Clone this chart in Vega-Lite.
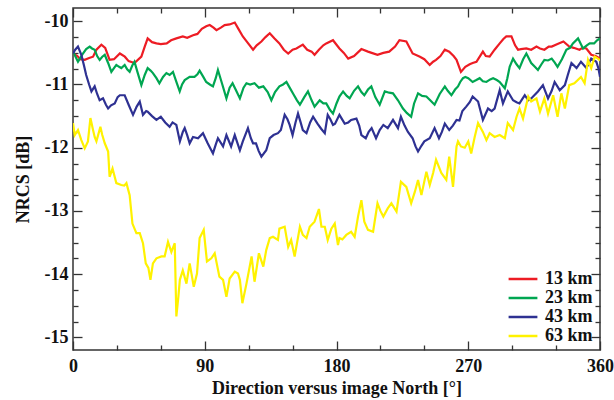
{
  "$schema": "https://vega.github.io/schema/vega-lite/v6.json",
  "width": 527,
  "height": 342,
  "autosize": {"type": "none"},
  "padding": {"left": 73, "top": 8, "right": 14, "bottom": 50},
  "config": {
    "view": {"stroke": "#333333", "strokeWidth": 1.5},
    "font": "Liberation Serif",
    "axis": {
      "labelFont": "Liberation Serif",
      "labelFontSize": 18,
      "labelFontWeight": "bold",
      "labelColor": "#111111",
      "titleFont": "Liberation Serif",
      "titleFontSize": 18,
      "titleFontWeight": "bold",
      "titleColor": "#111111",
      "tickColor": "#333333",
      "tickWidth": 1.3,
      "domain": false,
      "grid": false
    }
  },
  "datasets": {
    "nrcs": [
      {"s":"13 km","d":0,"v":-10.51},{"s":"13 km","d":3,"v":-10.55},{"s":"13 km","d":5,"v":-10.6},{"s":"13 km","d":8,"v":-10.61},{"s":"13 km","d":11,"v":-10.58},{"s":"13 km","d":13.7,"v":-10.56},{"s":"13 km","d":16,"v":-10.45},{"s":"13 km","d":19.4,"v":-10.37},{"s":"13 km","d":22,"v":-10.42},{"s":"13 km","d":25,"v":-10.61},{"s":"13 km","d":28,"v":-10.6},{"s":"13 km","d":32,"v":-10.51},{"s":"13 km","d":35.4,"v":-10.56},{"s":"13 km","d":38,"v":-10.63},{"s":"13 km","d":42,"v":-10.66},{"s":"13 km","d":46.7,"v":-10.56},{"s":"13 km","d":49,"v":-10.4},{"s":"13 km","d":51,"v":-10.27},{"s":"13 km","d":54,"v":-10.33},{"s":"13 km","d":57,"v":-10.35},{"s":"13 km","d":60,"v":-10.36},{"s":"13 km","d":64,"v":-10.35},{"s":"13 km","d":67,"v":-10.3},{"s":"13 km","d":70.6,"v":-10.27},{"s":"13 km","d":75,"v":-10.24},{"s":"13 km","d":78,"v":-10.26},{"s":"13 km","d":82,"v":-10.22},{"s":"13 km","d":85,"v":-10.2},{"s":"13 km","d":88,"v":-10.12},{"s":"13 km","d":91,"v":-10.08},{"s":"13 km","d":93.4,"v":-10.06},{"s":"13 km","d":96,"v":-10.1},{"s":"13 km","d":98,"v":-10.14},{"s":"13 km","d":101,"v":-10.1},{"s":"13 km","d":103.6,"v":-10.06},{"s":"13 km","d":107,"v":-10.05},{"s":"13 km","d":110.5,"v":-10.02},{"s":"13 km","d":113,"v":-10.12},{"s":"13 km","d":116,"v":-10.24},{"s":"13 km","d":119,"v":-10.33},{"s":"13 km","d":123,"v":-10.45},{"s":"13 km","d":125.5,"v":-10.38},{"s":"13 km","d":128.7,"v":-10.32},{"s":"13 km","d":131.5,"v":-10.25},{"s":"13 km","d":134.4,"v":-10.19},{"s":"13 km","d":137.5,"v":-10.27},{"s":"13 km","d":141,"v":-10.35},{"s":"13 km","d":144,"v":-10.45},{"s":"13 km","d":147,"v":-10.51},{"s":"13 km","d":150,"v":-10.45},{"s":"13 km","d":152.6,"v":-10.43},{"s":"13 km","d":157,"v":-10.37},{"s":"13 km","d":160,"v":-10.45},{"s":"13 km","d":163,"v":-10.48},{"s":"13 km","d":165,"v":-10.53},{"s":"13 km","d":168,"v":-10.45},{"s":"13 km","d":171,"v":-10.38},{"s":"13 km","d":173,"v":-10.35},{"s":"13 km","d":177.6,"v":-10.3},{"s":"13 km","d":182,"v":-10.43},{"s":"13 km","d":185,"v":-10.5},{"s":"13 km","d":188,"v":-10.59},{"s":"13 km","d":192,"v":-10.55},{"s":"13 km","d":197,"v":-10.44},{"s":"13 km","d":201.5,"v":-10.48},{"s":"13 km","d":204,"v":-10.5},{"s":"13 km","d":208,"v":-10.53},{"s":"13 km","d":212,"v":-10.5},{"s":"13 km","d":216,"v":-10.48},{"s":"13 km","d":220,"v":-10.4},{"s":"13 km","d":223,"v":-10.3},{"s":"13 km","d":227.7,"v":-10.32},{"s":"13 km","d":232,"v":-10.51},{"s":"13 km","d":237,"v":-10.56},{"s":"13 km","d":240,"v":-10.6},{"s":"13 km","d":243.7,"v":-10.69},{"s":"13 km","d":246,"v":-10.64},{"s":"13 km","d":248,"v":-10.61},{"s":"13 km","d":251,"v":-10.55},{"s":"13 km","d":254,"v":-10.45},{"s":"13 km","d":257,"v":-10.48},{"s":"13 km","d":260,"v":-10.55},{"s":"13 km","d":262,"v":-10.61},{"s":"13 km","d":265,"v":-10.8},{"s":"13 km","d":268,"v":-10.72},{"s":"13 km","d":271,"v":-10.68},{"s":"13 km","d":273,"v":-10.66},{"s":"13 km","d":275.6,"v":-10.64},{"s":"13 km","d":280,"v":-10.48},{"s":"13 km","d":282,"v":-10.55},{"s":"13 km","d":284.6,"v":-10.56},{"s":"13 km","d":288,"v":-10.45},{"s":"13 km","d":291.5,"v":-10.35},{"s":"13 km","d":294,"v":-10.28},{"s":"13 km","d":296,"v":-10.24},{"s":"13 km","d":299.5,"v":-10.24},{"s":"13 km","d":302,"v":-10.38},{"s":"13 km","d":304,"v":-10.45},{"s":"13 km","d":306,"v":-10.44},{"s":"13 km","d":309.7,"v":-10.43},{"s":"13 km","d":313,"v":-10.45},{"s":"13 km","d":316.6,"v":-10.4},{"s":"13 km","d":319,"v":-10.43},{"s":"13 km","d":322,"v":-10.45},{"s":"13 km","d":325,"v":-10.4},{"s":"13 km","d":327,"v":-10.4},{"s":"13 km","d":331,"v":-10.36},{"s":"13 km","d":335,"v":-10.32},{"s":"13 km","d":339,"v":-10.4},{"s":"13 km","d":342,"v":-10.42},{"s":"13 km","d":346,"v":-10.45},{"s":"13 km","d":348,"v":-10.42},{"s":"13 km","d":350.7,"v":-10.43},{"s":"13 km","d":354,"v":-10.53},{"s":"13 km","d":357,"v":-10.55},{"s":"13 km","d":360,"v":-10.59},
      {"s":"23 km","d":0,"v":-10.48},{"s":"23 km","d":1.5,"v":-10.55},{"s":"23 km","d":3.4,"v":-10.64},{"s":"23 km","d":5,"v":-10.58},{"s":"23 km","d":6.8,"v":-10.51},{"s":"23 km","d":9,"v":-10.44},{"s":"23 km","d":11.4,"v":-10.4},{"s":"23 km","d":13,"v":-10.43},{"s":"23 km","d":14.8,"v":-10.45},{"s":"23 km","d":16.5,"v":-10.55},{"s":"23 km","d":18.2,"v":-10.61},{"s":"23 km","d":20,"v":-10.56},{"s":"23 km","d":21.7,"v":-10.53},{"s":"23 km","d":24,"v":-10.66},{"s":"23 km","d":26.2,"v":-10.8},{"s":"23 km","d":28,"v":-10.74},{"s":"23 km","d":29.6,"v":-10.69},{"s":"23 km","d":31.5,"v":-10.72},{"s":"23 km","d":33,"v":-10.74},{"s":"23 km","d":35.3,"v":-10.69},{"s":"23 km","d":37,"v":-10.76},{"s":"23 km","d":38.7,"v":-10.8},{"s":"23 km","d":40.5,"v":-10.7},{"s":"23 km","d":42,"v":-10.64},{"s":"23 km","d":44,"v":-10.8},{"s":"23 km","d":46.7,"v":-11.01},{"s":"23 km","d":49,"v":-10.85},{"s":"23 km","d":51,"v":-10.74},{"s":"23 km","d":53,"v":-10.78},{"s":"23 km","d":54.6,"v":-10.82},{"s":"23 km","d":57,"v":-10.9},{"s":"23 km","d":59,"v":-10.98},{"s":"23 km","d":61.5,"v":-10.88},{"s":"23 km","d":63.8,"v":-10.82},{"s":"23 km","d":66,"v":-10.85},{"s":"23 km","d":68.3,"v":-10.8},{"s":"23 km","d":70.5,"v":-10.95},{"s":"23 km","d":72.9,"v":-11.11},{"s":"23 km","d":74.5,"v":-11.0},{"s":"23 km","d":76.3,"v":-10.93},{"s":"23 km","d":79.7,"v":-10.88},{"s":"23 km","d":83,"v":-10.88},{"s":"23 km","d":85,"v":-10.84},{"s":"23 km","d":86.5,"v":-10.78},{"s":"23 km","d":89,"v":-10.88},{"s":"23 km","d":91,"v":-10.96},{"s":"23 km","d":93.5,"v":-11.0},{"s":"23 km","d":95.6,"v":-11.03},{"s":"23 km","d":97.5,"v":-10.9},{"s":"23 km","d":99,"v":-10.77},{"s":"23 km","d":102,"v":-11.0},{"s":"23 km","d":104.8,"v":-11.22},{"s":"23 km","d":107,"v":-11.05},{"s":"23 km","d":109,"v":-10.98},{"s":"23 km","d":111.5,"v":-11.1},{"s":"23 km","d":114,"v":-11.22},{"s":"23 km","d":116.5,"v":-11.05},{"s":"23 km","d":118.5,"v":-10.98},{"s":"23 km","d":121,"v":-11.0},{"s":"23 km","d":124,"v":-10.98},{"s":"23 km","d":127,"v":-11.05},{"s":"23 km","d":130,"v":-11.03},{"s":"23 km","d":133,"v":-11.12},{"s":"23 km","d":135.5,"v":-11.25},{"s":"23 km","d":138,"v":-11.12},{"s":"23 km","d":141,"v":-11.03},{"s":"23 km","d":143.5,"v":-11.0},{"s":"23 km","d":145.8,"v":-10.96},{"s":"23 km","d":148,"v":-11.05},{"s":"23 km","d":150.5,"v":-11.15},{"s":"23 km","d":153,"v":-11.25},{"s":"23 km","d":155,"v":-11.32},{"s":"23 km","d":158,"v":-11.2},{"s":"23 km","d":160.5,"v":-11.11},{"s":"23 km","d":163,"v":-11.25},{"s":"23 km","d":165,"v":-11.35},{"s":"23 km","d":168.5,"v":-11.25},{"s":"23 km","d":171,"v":-11.3},{"s":"23 km","d":173,"v":-11.3},{"s":"23 km","d":175.5,"v":-11.4},{"s":"23 km","d":177.6,"v":-11.46},{"s":"23 km","d":180,"v":-11.3},{"s":"23 km","d":182,"v":-11.19},{"s":"23 km","d":184.5,"v":-11.11},{"s":"23 km","d":187,"v":-11.18},{"s":"23 km","d":189,"v":-11.22},{"s":"23 km","d":192,"v":-11.1},{"s":"23 km","d":194.7,"v":-11.03},{"s":"23 km","d":197,"v":-11.12},{"s":"23 km","d":199,"v":-11.17},{"s":"23 km","d":201.5,"v":-11.08},{"s":"23 km","d":203.8,"v":-11.03},{"s":"23 km","d":206.5,"v":-11.2},{"s":"23 km","d":209.5,"v":-11.32},{"s":"23 km","d":213,"v":-11.11},{"s":"23 km","d":216,"v":-11.13},{"s":"23 km","d":218.6,"v":-11.14},{"s":"23 km","d":222,"v":-11.25},{"s":"23 km","d":225.4,"v":-11.38},{"s":"23 km","d":228,"v":-11.45},{"s":"23 km","d":231,"v":-11.51},{"s":"23 km","d":233,"v":-11.3},{"s":"23 km","d":235.7,"v":-11.14},{"s":"23 km","d":238.5,"v":-11.18},{"s":"23 km","d":241.4,"v":-11.19},{"s":"23 km","d":244,"v":-11.25},{"s":"23 km","d":247,"v":-11.32},{"s":"23 km","d":250.5,"v":-11.15},{"s":"23 km","d":254,"v":-11.03},{"s":"23 km","d":256,"v":-11.1},{"s":"23 km","d":258.5,"v":-11.17},{"s":"23 km","d":261,"v":-11.08},{"s":"23 km","d":263,"v":-11.03},{"s":"23 km","d":264.5,"v":-10.96},{"s":"23 km","d":266.4,"v":-10.9},{"s":"23 km","d":268,"v":-10.88},{"s":"23 km","d":270,"v":-10.9},{"s":"23 km","d":273,"v":-10.96},{"s":"23 km","d":275.5,"v":-10.93},{"s":"23 km","d":277.8,"v":-10.9},{"s":"23 km","d":280,"v":-10.95},{"s":"23 km","d":282.4,"v":-10.96},{"s":"23 km","d":285,"v":-10.92},{"s":"23 km","d":287,"v":-10.9},{"s":"23 km","d":289.5,"v":-10.93},{"s":"23 km","d":291.5,"v":-10.96},{"s":"23 km","d":295,"v":-11.06},{"s":"23 km","d":296.7,"v":-10.9},{"s":"23 km","d":298.3,"v":-10.72},{"s":"23 km","d":300.6,"v":-10.59},{"s":"23 km","d":303,"v":-10.68},{"s":"23 km","d":305,"v":-10.74},{"s":"23 km","d":307.5,"v":-10.6},{"s":"23 km","d":309.7,"v":-10.51},{"s":"23 km","d":313,"v":-10.66},{"s":"23 km","d":315.5,"v":-10.72},{"s":"23 km","d":317.6,"v":-10.77},{"s":"23 km","d":320,"v":-10.68},{"s":"23 km","d":322,"v":-10.61},{"s":"23 km","d":324.5,"v":-10.62},{"s":"23 km","d":327,"v":-10.59},{"s":"23 km","d":329,"v":-10.65},{"s":"23 km","d":331,"v":-10.72},{"s":"23 km","d":334,"v":-10.6},{"s":"23 km","d":337,"v":-10.45},{"s":"23 km","d":339.5,"v":-10.42},{"s":"23 km","d":341.5,"v":-10.35},{"s":"23 km","d":345,"v":-10.27},{"s":"23 km","d":348.4,"v":-10.43},{"s":"23 km","d":351,"v":-10.38},{"s":"23 km","d":353,"v":-10.35},{"s":"23 km","d":356,"v":-10.35},{"s":"23 km","d":358,"v":-10.3},{"s":"23 km","d":360,"v":-10.27},
      {"s":"43 km","d":0,"v":-10.51},{"s":"43 km","d":1.5,"v":-10.45},{"s":"43 km","d":3.4,"v":-10.4},{"s":"43 km","d":5.7,"v":-10.53},{"s":"43 km","d":7.5,"v":-10.7},{"s":"43 km","d":9,"v":-10.85},{"s":"43 km","d":11,"v":-11.0},{"s":"43 km","d":12.6,"v":-11.11},{"s":"43 km","d":14.8,"v":-11.03},{"s":"43 km","d":16.5,"v":-11.15},{"s":"43 km","d":18.2,"v":-11.25},{"s":"43 km","d":20.5,"v":-11.22},{"s":"43 km","d":22.5,"v":-11.32},{"s":"43 km","d":24,"v":-11.38},{"s":"43 km","d":26,"v":-11.33},{"s":"43 km","d":28.5,"v":-11.3},{"s":"43 km","d":30.5,"v":-11.2},{"s":"43 km","d":32,"v":-11.17},{"s":"43 km","d":35.3,"v":-11.17},{"s":"43 km","d":38,"v":-11.32},{"s":"43 km","d":41,"v":-11.48},{"s":"43 km","d":43.5,"v":-11.35},{"s":"43 km","d":45.6,"v":-11.27},{"s":"43 km","d":47.8,"v":-11.48},{"s":"43 km","d":50,"v":-11.42},{"s":"43 km","d":51,"v":-11.43},{"s":"43 km","d":54,"v":-11.5},{"s":"43 km","d":57,"v":-11.56},{"s":"43 km","d":60,"v":-11.51},{"s":"43 km","d":63,"v":-11.6},{"s":"43 km","d":66,"v":-11.67},{"s":"43 km","d":68,"v":-11.6},{"s":"43 km","d":70.6,"v":-11.64},{"s":"43 km","d":73,"v":-11.9},{"s":"43 km","d":75,"v":-11.75},{"s":"43 km","d":76.3,"v":-11.69},{"s":"43 km","d":78,"v":-11.8},{"s":"43 km","d":79.7,"v":-11.93},{"s":"43 km","d":82,"v":-11.83},{"s":"43 km","d":85.4,"v":-11.85},{"s":"43 km","d":88.8,"v":-11.77},{"s":"43 km","d":90,"v":-11.83},{"s":"43 km","d":92,"v":-11.93},{"s":"43 km","d":95.6,"v":-12.09},{"s":"43 km","d":97.5,"v":-11.95},{"s":"43 km","d":99,"v":-11.85},{"s":"43 km","d":102.5,"v":-11.98},{"s":"43 km","d":104.8,"v":-11.8},{"s":"43 km","d":108,"v":-11.98},{"s":"43 km","d":110.5,"v":-11.8},{"s":"43 km","d":114,"v":-12.04},{"s":"43 km","d":116,"v":-11.9},{"s":"43 km","d":119.5,"v":-11.69},{"s":"43 km","d":121.5,"v":-11.85},{"s":"43 km","d":123,"v":-11.93},{"s":"43 km","d":125,"v":-11.93},{"s":"43 km","d":126.8,"v":-12.05},{"s":"43 km","d":128.7,"v":-12.14},{"s":"43 km","d":132,"v":-12.04},{"s":"43 km","d":134.4,"v":-11.85},{"s":"43 km","d":137,"v":-11.8},{"s":"43 km","d":140,"v":-11.77},{"s":"43 km","d":142,"v":-11.72},{"s":"43 km","d":144.6,"v":-11.48},{"s":"43 km","d":146.5,"v":-11.55},{"s":"43 km","d":148,"v":-11.64},{"s":"43 km","d":150,"v":-11.8},{"s":"43 km","d":152,"v":-11.6},{"s":"43 km","d":153.7,"v":-11.46},{"s":"43 km","d":155.5,"v":-11.6},{"s":"43 km","d":157,"v":-11.72},{"s":"43 km","d":159.5,"v":-11.77},{"s":"43 km","d":162,"v":-11.6},{"s":"43 km","d":164,"v":-11.51},{"s":"43 km","d":167,"v":-11.62},{"s":"43 km","d":169.5,"v":-11.7},{"s":"43 km","d":172,"v":-11.77},{"s":"43 km","d":174,"v":-11.48},{"s":"43 km","d":175.8,"v":-11.55},{"s":"43 km","d":177.6,"v":-11.64},{"s":"43 km","d":179,"v":-11.62},{"s":"43 km","d":182,"v":-11.48},{"s":"43 km","d":185.6,"v":-11.62},{"s":"43 km","d":188,"v":-11.6},{"s":"43 km","d":190,"v":-11.56},{"s":"43 km","d":193.6,"v":-11.54},{"s":"43 km","d":195.5,"v":-11.65},{"s":"43 km","d":197,"v":-11.8},{"s":"43 km","d":200,"v":-11.85},{"s":"43 km","d":202,"v":-11.75},{"s":"43 km","d":204,"v":-11.69},{"s":"43 km","d":207,"v":-11.85},{"s":"43 km","d":209.5,"v":-11.72},{"s":"43 km","d":212,"v":-11.64},{"s":"43 km","d":215,"v":-11.69},{"s":"43 km","d":218.6,"v":-11.56},{"s":"43 km","d":222,"v":-11.69},{"s":"43 km","d":224,"v":-11.51},{"s":"43 km","d":226.5,"v":-11.65},{"s":"43 km","d":228.8,"v":-11.75},{"s":"43 km","d":232,"v":-11.85},{"s":"43 km","d":234,"v":-11.98},{"s":"43 km","d":235.7,"v":-12.06},{"s":"43 km","d":238,"v":-11.97},{"s":"43 km","d":240,"v":-11.9},{"s":"43 km","d":243.7,"v":-11.85},{"s":"43 km","d":247,"v":-11.69},{"s":"43 km","d":250,"v":-11.85},{"s":"43 km","d":252,"v":-11.75},{"s":"43 km","d":254,"v":-11.62},{"s":"43 km","d":257,"v":-11.72},{"s":"43 km","d":259.5,"v":-11.65},{"s":"43 km","d":262,"v":-11.56},{"s":"43 km","d":264,"v":-11.57},{"s":"43 km","d":266,"v":-11.42},{"s":"43 km","d":268.6,"v":-11.35},{"s":"43 km","d":271,"v":-11.28},{"s":"43 km","d":273,"v":-11.19},{"s":"43 km","d":276.7,"v":-11.27},{"s":"43 km","d":280,"v":-11.56},{"s":"43 km","d":283.5,"v":-11.38},{"s":"43 km","d":286,"v":-11.42},{"s":"43 km","d":288,"v":-11.38},{"s":"43 km","d":291.5,"v":-11.09},{"s":"43 km","d":293.7,"v":-11.3},{"s":"43 km","d":297,"v":-11.11},{"s":"43 km","d":300.6,"v":-11.25},{"s":"43 km","d":303,"v":-11.28},{"s":"43 km","d":305,"v":-11.3},{"s":"43 km","d":308.6,"v":-11.17},{"s":"43 km","d":311,"v":-11.25},{"s":"43 km","d":313,"v":-11.22},{"s":"43 km","d":317.6,"v":-11.11},{"s":"43 km","d":321,"v":-11.01},{"s":"43 km","d":324.5,"v":-11.22},{"s":"43 km","d":327,"v":-11.1},{"s":"43 km","d":329,"v":-10.96},{"s":"43 km","d":332.5,"v":-11.09},{"s":"43 km","d":336,"v":-11.01},{"s":"43 km","d":338,"v":-10.85},{"s":"43 km","d":340.5,"v":-10.66},{"s":"43 km","d":344,"v":-10.74},{"s":"43 km","d":347,"v":-10.64},{"s":"43 km","d":350.7,"v":-10.74},{"s":"43 km","d":354,"v":-10.59},{"s":"43 km","d":357.5,"v":-10.64},{"s":"43 km","d":359,"v":-10.75},{"s":"43 km","d":360,"v":-10.88},
      {"s":"63 km","d":0,"v":-11.61},{"s":"63 km","d":1.2,"v":-11.8},{"s":"63 km","d":3.4,"v":-11.72},{"s":"63 km","d":5.7,"v":-11.88},{"s":"63 km","d":8,"v":-12.01},{"s":"63 km","d":10.2,"v":-11.9},{"s":"63 km","d":11.9,"v":-11.53},{"s":"63 km","d":13.5,"v":-11.7},{"s":"63 km","d":14.8,"v":-11.83},{"s":"63 km","d":16,"v":-11.9},{"s":"63 km","d":18.7,"v":-11.67},{"s":"63 km","d":20,"v":-11.8},{"s":"63 km","d":21.7,"v":-11.93},{"s":"63 km","d":24,"v":-12.06},{"s":"63 km","d":25,"v":-12.46},{"s":"63 km","d":27,"v":-12.33},{"s":"63 km","d":29.6,"v":-12.56},{"s":"63 km","d":33,"v":-12.59},{"s":"63 km","d":35,"v":-12.6},{"s":"63 km","d":36.5,"v":-12.56},{"s":"63 km","d":38.7,"v":-12.75},{"s":"63 km","d":40.6,"v":-13.2},{"s":"63 km","d":43.3,"v":-13.35},{"s":"63 km","d":45.6,"v":-13.35},{"s":"63 km","d":47.8,"v":-13.51},{"s":"63 km","d":49.7,"v":-13.83},{"s":"63 km","d":51.5,"v":-13.9},{"s":"63 km","d":52.9,"v":-14.09},{"s":"63 km","d":54.6,"v":-13.83},{"s":"63 km","d":57,"v":-13.75},{"s":"63 km","d":60.4,"v":-13.72},{"s":"63 km","d":62.6,"v":-13.72},{"s":"63 km","d":64.9,"v":-13.49},{"s":"63 km","d":67.2,"v":-13.65},{"s":"63 km","d":69.5,"v":-13.51},{"s":"63 km","d":70.6,"v":-14.67},{"s":"63 km","d":72,"v":-14.35},{"s":"63 km","d":73,"v":-14.09},{"s":"63 km","d":75,"v":-13.94},{"s":"63 km","d":77.5,"v":-14.15},{"s":"63 km","d":79.7,"v":-13.83},{"s":"63 km","d":81,"v":-14.0},{"s":"63 km","d":82.5,"v":-14.2},{"s":"63 km","d":84.7,"v":-13.99},{"s":"63 km","d":86.5,"v":-13.43},{"s":"63 km","d":89.3,"v":-13.3},{"s":"63 km","d":91.5,"v":-13.8},{"s":"63 km","d":94.5,"v":-13.75},{"s":"63 km","d":96.8,"v":-13.67},{"s":"63 km","d":100,"v":-14.04},{"s":"63 km","d":102.5,"v":-14.09},{"s":"63 km","d":104.8,"v":-14.36},{"s":"63 km","d":107,"v":-14.07},{"s":"63 km","d":110.5,"v":-13.96},{"s":"63 km","d":112.7,"v":-13.99},{"s":"63 km","d":114,"v":-14.09},{"s":"63 km","d":115.7,"v":-14.46},{"s":"63 km","d":118.5,"v":-14.15},{"s":"63 km","d":122,"v":-13.72},{"s":"63 km","d":124,"v":-14.12},{"s":"63 km","d":127,"v":-13.67},{"s":"63 km","d":130,"v":-13.88},{"s":"63 km","d":132,"v":-13.62},{"s":"63 km","d":134.4,"v":-13.43},{"s":"63 km","d":136.6,"v":-13.41},{"s":"63 km","d":140,"v":-13.46},{"s":"63 km","d":141,"v":-13.28},{"s":"63 km","d":144.6,"v":-13.25},{"s":"63 km","d":147,"v":-13.57},{"s":"63 km","d":149,"v":-13.46},{"s":"63 km","d":151.4,"v":-13.72},{"s":"63 km","d":155,"v":-13.25},{"s":"63 km","d":157,"v":-13.38},{"s":"63 km","d":159.5,"v":-13.43},{"s":"63 km","d":161.7,"v":-13.25},{"s":"63 km","d":165,"v":-13.17},{"s":"63 km","d":168,"v":-12.97},{"s":"63 km","d":169.7,"v":-13.25},{"s":"63 km","d":172,"v":-13.25},{"s":"63 km","d":174,"v":-13.46},{"s":"63 km","d":176.5,"v":-13.28},{"s":"63 km","d":178.8,"v":-13.2},{"s":"63 km","d":181,"v":-13.54},{"s":"63 km","d":182,"v":-13.43},{"s":"63 km","d":184,"v":-13.45},{"s":"63 km","d":186.7,"v":-13.38},{"s":"63 km","d":190,"v":-13.33},{"s":"63 km","d":192.4,"v":-13.41},{"s":"63 km","d":194.7,"v":-13.09},{"s":"63 km","d":197,"v":-12.83},{"s":"63 km","d":199,"v":-13.17},{"s":"63 km","d":201.5,"v":-13.3},{"s":"63 km","d":205,"v":-13.33},{"s":"63 km","d":208,"v":-12.88},{"s":"63 km","d":210,"v":-13.0},{"s":"63 km","d":212,"v":-13.09},{"s":"63 km","d":215,"v":-12.96},{"s":"63 km","d":217.5,"v":-12.88},{"s":"63 km","d":221,"v":-13.01},{"s":"63 km","d":224,"v":-12.54},{"s":"63 km","d":227.7,"v":-12.62},{"s":"63 km","d":231,"v":-12.88},{"s":"63 km","d":233.5,"v":-12.7},{"s":"63 km","d":235.7,"v":-12.51},{"s":"63 km","d":238,"v":-12.75},{"s":"63 km","d":241.4,"v":-12.38},{"s":"63 km","d":243.7,"v":-12.59},{"s":"63 km","d":246,"v":-12.4},{"s":"63 km","d":248,"v":-12.19},{"s":"63 km","d":251.6,"v":-12.4},{"s":"63 km","d":255,"v":-12.51},{"s":"63 km","d":257,"v":-12.14},{"s":"63 km","d":259.6,"v":-12.62},{"s":"63 km","d":262,"v":-11.98},{"s":"63 km","d":263,"v":-11.9},{"s":"63 km","d":265,"v":-11.98},{"s":"63 km","d":267.6,"v":-12.0},{"s":"63 km","d":270,"v":-11.9},{"s":"63 km","d":272,"v":-12.09},{"s":"63 km","d":274.4,"v":-11.83},{"s":"63 km","d":276.7,"v":-11.61},{"s":"63 km","d":280,"v":-11.75},{"s":"63 km","d":282.4,"v":-11.88},{"s":"63 km","d":284.6,"v":-11.77},{"s":"63 km","d":288,"v":-11.83},{"s":"63 km","d":291.5,"v":-11.8},{"s":"63 km","d":295,"v":-11.85},{"s":"63 km","d":297,"v":-11.61},{"s":"63 km","d":300.6,"v":-11.72},{"s":"63 km","d":303,"v":-11.51},{"s":"63 km","d":305,"v":-11.38},{"s":"63 km","d":307.4,"v":-11.54},{"s":"63 km","d":311,"v":-11.19},{"s":"63 km","d":313,"v":-11.27},{"s":"63 km","d":316.6,"v":-11.22},{"s":"63 km","d":319,"v":-11.43},{"s":"63 km","d":322,"v":-11.22},{"s":"63 km","d":324.5,"v":-11.46},{"s":"63 km","d":328,"v":-11.17},{"s":"63 km","d":331,"v":-11.51},{"s":"63 km","d":333.6,"v":-11.14},{"s":"63 km","d":336,"v":-11.38},{"s":"63 km","d":339,"v":-11.01},{"s":"63 km","d":342.5,"v":-10.98},{"s":"63 km","d":347,"v":-10.88},{"s":"63 km","d":349.5,"v":-10.98},{"s":"63 km","d":351.8,"v":-10.61},{"s":"63 km","d":354,"v":-10.74},{"s":"63 km","d":356.4,"v":-10.56},{"s":"63 km","d":358.6,"v":-10.59},{"s":"63 km","d":360,"v":-10.62}
    ]
  },
  "data": {"name": "nrcs"},
  "layer": [
    {
      "mark": {"type": "line", "strokeWidth": 2.2, "clip": true},
      "encoding": {
        "x": {
          "field": "d", "type": "quantitative",
          "scale": {"domain": [0, 360], "nice": false, "zero": false},
          "axis": {
            "orient": "bottom",
            "title": "Direction versus image North [°]",
            "values": [0, 30, 60, 90, 120, 150, 180, 210, 240, 270, 300, 330, 360],
            "labelExpr": "datum.value % 90 === 0 ? '' + datum.value : ''",
            "tickSize": {"condition": {"test": "datum.value % 90 === 0", "value": -9}, "value": -5},
            "labelPadding": 16,
            "labelFlush": false,
            "titlePadding": 4
          }
        },
        "y": {
          "field": "v", "type": "quantitative",
          "scale": {"domain": [-15.2, -9.79], "nice": false, "zero": false},
          "axis": {
            "orient": "left",
            "title": "NRCS [dB]",
            "values": [-15, -14.75, -14.5, -14.25, -14, -13.75, -13.5, -13.25, -13, -12.75, -12.5, -12.25, -12, -11.75, -11.5, -11.25, -11, -10.75, -10.5, -10.25, -10],
            "labelExpr": "datum.value % 1 === 0 ? '' + datum.value : ''",
            "tickSize": {"condition": {"test": "datum.value % 1 === 0", "value": -9}, "value": -5},
            "labelPadding": 14,
            "titlePadding": 12
          }
        },
        "color": {
          "field": "s", "type": "nominal",
          "scale": {"domain": ["13 km", "23 km", "43 km", "63 km"], "range": ["#ED1C24", "#00A651", "#2E3192", "#FFF200"]},
          "legend": {
            "title": null,
            "orient": "none",
            "legendX": 441,
            "legendY": 262,
            "symbolType": "M-2.4,0H2.4",
            "symbolSize": 144,
            "symbolStrokeWidth": 2.5,
            "symbolFillColor": "transparent",
            "labelFont": "Liberation Serif",
            "labelFontSize": 18,
            "labelFontWeight": "bold",
            "labelColor": "#111111",
            "labelOffset": 13,
            "rowPadding": 1,
            "padding": 0
          }
        }
      }
    },
    {
      "mark": {"type": "line", "opacity": 0},
      "encoding": {
        "detail": {"field": "s", "type": "nominal"},
        "x": {
          "field": "d", "type": "quantitative",
          "axis": {
            "orient": "top",
            "title": null,
            "labels": false,
            "values": [0, 30, 60, 90, 120, 150, 180, 210, 240, 270, 300, 330, 360],
            "tickSize": {"condition": {"test": "datum.value % 90 === 0", "value": -9}, "value": -5}
          }
        },
        "y": {
          "field": "v", "type": "quantitative",
          "axis": {
            "orient": "right",
            "title": null,
            "labels": false,
            "values": [-15, -14.75, -14.5, -14.25, -14, -13.75, -13.5, -13.25, -13, -12.75, -12.5, -12.25, -12, -11.75, -11.5, -11.25, -11, -10.75, -10.5, -10.25, -10],
            "tickSize": {"condition": {"test": "datum.value % 1 === 0", "value": -9}, "value": -5}
          }
        }
      }
    }
  ],
  "resolve": {"axis": {"x": "independent", "y": "independent"}}
}
